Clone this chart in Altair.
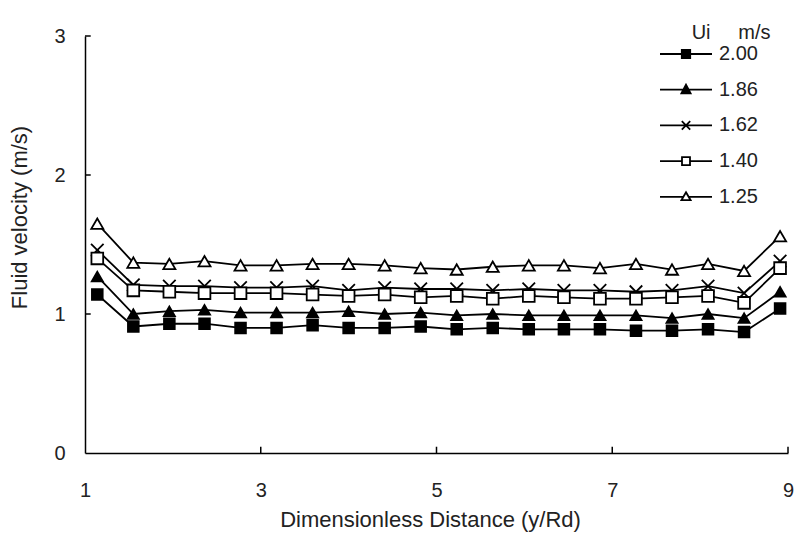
import altair as alt
import pandas as pd

# ---------------- data ----------------
x_pos = [1.14, 1.55, 1.96, 2.36, 2.77, 3.18, 3.59, 4.00, 4.41, 4.82,
         5.23, 5.64, 6.05, 6.45, 6.86, 7.27, 7.68, 8.09, 8.50, 8.91]

ui_labels = ["2.00", "1.86", "1.62", "1.40", "1.25"]

v_200 = [1.14, 0.91, 0.93, 0.93, 0.90, 0.90, 0.92, 0.90, 0.90, 0.91,
         0.89, 0.90, 0.89, 0.89, 0.89, 0.88, 0.88, 0.89, 0.87, 1.04]
v_186 = [1.27, 1.00, 1.02, 1.03, 1.01, 1.01, 1.01, 1.02, 1.00, 1.01,
         0.99, 1.00, 0.99, 0.99, 0.99, 0.99, 0.97, 1.00, 0.97, 1.16]
v_162 = [1.46, 1.21, 1.20, 1.20, 1.19, 1.19, 1.20, 1.17, 1.19, 1.18,
         1.18, 1.17, 1.18, 1.17, 1.17, 1.16, 1.17, 1.20, 1.15, 1.38]
v_140 = [1.40, 1.17, 1.16, 1.15, 1.15, 1.15, 1.14, 1.13, 1.14, 1.12,
         1.13, 1.11, 1.13, 1.12, 1.11, 1.11, 1.12, 1.13, 1.08, 1.33]
v_125 = [1.65, 1.37, 1.36, 1.38, 1.35, 1.35, 1.36, 1.36, 1.35, 1.33,
         1.32, 1.34, 1.35, 1.35, 1.33, 1.36, 1.32, 1.36, 1.31, 1.56]

x_ticks = [1, 3, 5, 7, 9]
y_ticks = [0, 1, 2, 3]
x_inner_ticks = [3, 5, 7, 9]
y_inner_ticks = [1, 2, 3]

# ---------------- build table ----------------
rows = []
for lab, vals in zip(ui_labels, [v_200, v_186, v_162, v_140, v_125]):
    for x, v in zip(x_pos, vals):
        rows.append({"x": x, "v": v, "Ui": lab})
df = pd.DataFrame(rows)

FONT = "Liberation Sans, Arial, sans-serif"
TXT = "#222222"
FS = 20

x_scale = alt.Scale(domain=[1, 9], nice=False, zero=False)
y_scale = alt.Scale(domain=[0, 3], nice=False, zero=False)

marker_shapes = ["square", "triangle-up", "M-1.1,-1.1L1.1,1.1M-1.1,1.1L1.1,-1.1",
                 "square", "triangle-up"]
marker_fills = ["black", "black", "white", "white", "white"]
marker_sizes = [115, 145, 125, 135, 190]

# ---- legend glyphs: line through marker (solid markers drawn as dense hatching) ----
L = 2.6


def f(v):
    return f"{v:.3f}"


def solid_square(h):
    p = f"M{f(-h)},{f(-h)}L{f(h)},{f(-h)}L{f(h)},{f(h)}L{f(-h)},{f(h)}Z"
    y = -h
    while y <= h + 1e-9:
        p += f"M{f(-h)},{f(y)}L{f(h)},{f(y)}"
        y += 0.08
    return p


def solid_triangle(top, bot, hw):
    p = f"M0,{f(top)}L{f(hw)},{f(bot)}L{f(-hw)},{f(bot)}Z"
    y = top + 0.06
    while y <= bot + 1e-9:
        w = hw * (y - top) / (bot - top)
        p += f"M{f(-w)},{f(y)}L{f(w)},{f(y)}"
        y += 0.07
    return p


legend_shapes = [
    f"M-{L},0L{L},0" + solid_square(0.42),
    f"M-{L},0L{L},0" + solid_triangle(-0.5, 0.36, 0.46),
    f"M-{L},0L{L},0M-0.42,-0.42L0.42,0.42M-0.42,0.42L0.42,-0.42",
    f"M-{L},0L-0.4,0M0.4,0L{L},0M-0.4,-0.4L0.4,-0.4L0.4,0.4L-0.4,0.4Z",
    f"M-{L},0L-0.27,0M0.27,0L{L},0M0,-0.46L0.46,0.34L-0.46,0.34Z",
]

x_axis = alt.Axis(values=x_ticks, format="d", title="Dimensionless Distance (y/Rd)",
                  labelPadding=27, labelFlush=False, titleX=345, titleY=56,
                  titleBaseline="top")
y_axis = alt.Axis(values=y_ticks, format="d", title="Fluid velocity (m/s)",
                  labelPadding=20, labelFlush=False, titleX=-54, titleY=181,
                  titleBaseline="bottom")

base = alt.Chart(df)

lines = base.mark_line(color="black", strokeWidth=1.8).encode(
    x=alt.X("x:Q", scale=x_scale, axis=x_axis),
    y=alt.Y("v:Q", scale=y_scale, axis=y_axis),
    detail="Ui:N",
)

points = base.mark_point(stroke="black", strokeWidth=1.8, opacity=1).encode(
    x=alt.X("x:Q", scale=x_scale),
    y=alt.Y("v:Q", scale=y_scale),
    shape=alt.Shape("Ui:N", scale=alt.Scale(domain=ui_labels, range=marker_shapes), legend=None),
    fill=alt.Fill("Ui:N", scale=alt.Scale(domain=ui_labels, range=marker_fills), legend=None),
    size=alt.Size("Ui:N", scale=alt.Scale(domain=ui_labels, range=marker_sizes), legend=None),
)

leg = alt.Legend(orient="none", legendX=590, legendY=-13,
                 title="\u200b\u00a0\u00a0\u00a0Ui\u00a0\u00a0\u00a0\u00a0\u00a0m/s",
                 titleAnchor="start", titleFontSize=FS, titleFontWeight="normal", titleFont=FONT,
                 titleColor=TXT, titlePadding=0, labelFontSize=FS, labelFont=FONT,
                 labelColor=TXT, symbolSize=400, symbolStrokeWidth=1.8,
                 symbolStrokeColor="black", symbolFillColor="white", symbolOpacity=1,
                 rowPadding=14.7, labelOffset=22, padding=0)

# legend-only layer: no rows survive the filter, the explicit domain feeds the legend
legend_layer = base.transform_filter("datum.x < 0").mark_point(
    color="black", strokeWidth=1.8, size=400, opacity=1, filled=False).encode(
    x=alt.X("x:Q", scale=x_scale),
    y=alt.Y("v:Q", scale=y_scale),
    shape=alt.Shape("Ui:N", scale=alt.Scale(domain=ui_labels, range=legend_shapes),
                    sort=ui_labels, legend=leg),
)

xt_df = pd.DataFrame({"x": x_inner_ticks, "y0": [0.0] * 4, "y1": [0.045] * 4})
yt_df = pd.DataFrame({"y": y_inner_ticks, "x0": [1.0] * 3, "x1": [1.065] * 3})

xticks = alt.Chart(xt_df).mark_rule(color="black", strokeWidth=1.5).encode(
    x=alt.X("x:Q", scale=x_scale), y=alt.Y("y0:Q", scale=y_scale), y2="y1:Q")
yticks = alt.Chart(yt_df).mark_rule(color="black", strokeWidth=1.5).encode(
    y=alt.Y("y:Q", scale=y_scale), x=alt.X("x0:Q", scale=x_scale), x2="x1:Q")

chart = alt.layer(lines, points, legend_layer, xticks, yticks).resolve_scale(
    shape="independent", fill="independent", size="independent"
).properties(
    width=703, height=417,
    autosize=alt.AutoSizeParams(type="none"),
    padding={"left": 77, "top": 28, "right": 12, "bottom": 84},
    background="white",
).configure_view(stroke=None).configure_axis(
    grid=False, ticks=False, domainColor="black", domainWidth=1.5,
    labelFont=FONT, labelFontSize=FS, labelColor=TXT,
    titleFont=FONT, titleFontSize=22, titleFontWeight="normal", titleColor=TXT,
)

chart.save("out.html", embed_options={"renderer": "svg", "actions": False})
